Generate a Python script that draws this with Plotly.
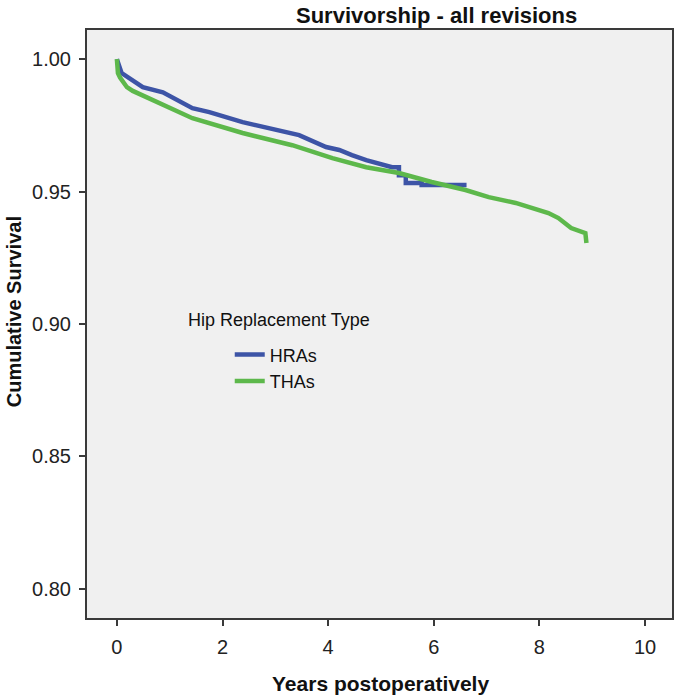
import plotly.graph_objects as go

# Kaplan-Meier survival estimates
hra_years = [0.0, 0.09, 0.49, 0.87, 1.43, 1.75, 2.38, 3.02, 3.45, 3.96, 4.21, 4.45, 4.72,
             5.21, 5.34, 5.34, 5.47, 5.47, 5.77, 5.77, 6.62]
hra_surv = [1.000, 0.9947, 0.9894, 0.9875, 0.9815, 0.9800, 0.9762, 0.9732, 0.9713, 0.9668,
            0.9657, 0.9638, 0.9619, 0.9592, 0.9592, 0.9562, 0.9562, 0.9532, 0.9532, 0.9525, 0.9525]

tha_years = [0.0, 0.02, 0.06, 0.19, 0.30, 0.81, 1.43, 2.38, 3.32, 4.08, 4.72, 5.34, 5.96,
             6.60, 7.04, 7.55, 8.17, 8.36, 8.60, 8.87, 8.89]
tha_surv = [1.000, 0.9947, 0.9930, 0.9894, 0.9880, 0.9834, 0.9777, 0.9721, 0.9675, 0.9626,
            0.9592, 0.9570, 0.9536, 0.9506, 0.9479, 0.9457, 0.9419, 0.9400, 0.9362, 0.9343, 0.9306]

series_names = ["HRAs", "THAs"]
x_ticks = [0, 2, 4, 6, 8, 10]
y_ticks = [0.80, 0.85, 0.90, 0.95, 1.00]

BLUE = "#3D54A6"
GREEN = "#5DB84B"

fig = go.Figure()
fig.add_trace(go.Scatter(x=hra_years, y=hra_surv, mode="lines", name=series_names[0],
                         line=dict(color=BLUE, width=4.5, shape="linear")))
fig.add_trace(go.Scatter(x=tha_years, y=tha_surv, mode="lines", name=series_names[1],
                         line=dict(color=GREEN, width=4.5, shape="linear")))

axis_common = dict(
    showgrid=False, zeroline=False, showline=True, linecolor="#3a3a3a", linewidth=2,
    mirror=True, ticks="outside", ticklen=6, tickwidth=2, tickcolor="#3a3a3a",
    tickfont=dict(family="Liberation Sans Narrow, Arial Narrow, Liberation Sans, Arial",
                  size=20, color="#222"),
)

fig.update_layout(
    width=677, height=697,
    margin=dict(l=87, r=3, t=30, b=79),
    paper_bgcolor="white", plot_bgcolor="#F0F0F0",
    font=dict(family="Liberation Sans, Arial, sans-serif", color="#111"),
    xaxis=dict(range=[-0.566, 10.51], tickvals=x_ticks, ticktext=[str(v) for v in x_ticks],
               ticklabelstandoff=4, **axis_common),
    yaxis=dict(range=[0.789, 1.011], tickvals=y_ticks, ticktext=[f"{v:.2f}" for v in y_ticks],
               ticklabelstandoff=4, **axis_common),
    showlegend=True,
    legend=dict(x=0.244, y=0.479, xanchor="left", yanchor="top", bgcolor="rgba(0,0,0,0)",
                font=dict(size=18, color="#111"), tracegroupgap=0, itemwidth=30),
    annotations=[
        dict(text="<b>Survivorship - all revisions</b>", xref="paper", yref="paper",
             x=(438 - 87) / 587, y=(618 - 15) / 588, xanchor="center", yanchor="middle",
             showarrow=False, font=dict(size=22, color="#111")),
        dict(text="<b>Years postoperatively</b>", xref="paper", yref="paper",
             x=(382 - 87) / 587, y=(618 - 683) / 588, xanchor="center", yanchor="middle",
             showarrow=False, font=dict(size=21, color="#111")),
        dict(text="<b>Cumulative Survival</b>", xref="paper", yref="paper",
             x=(14 - 87) / 587, y=(618 - 312) / 588, xanchor="center", yanchor="middle",
             textangle=-90, showarrow=False, font=dict(size=20, color="#111")),
        dict(text="Hip Replacement Type", xref="paper", yref="paper",
             x=(186 - 87) / 587, y=(618 - 320) / 588, xanchor="left", yanchor="middle",
             showarrow=False, font=dict(size=18, color="#111")),
    ],
)

fig.write_html("out.html", config={"displayModeBar": False},
               post_script="document.body.style.margin='0';")
